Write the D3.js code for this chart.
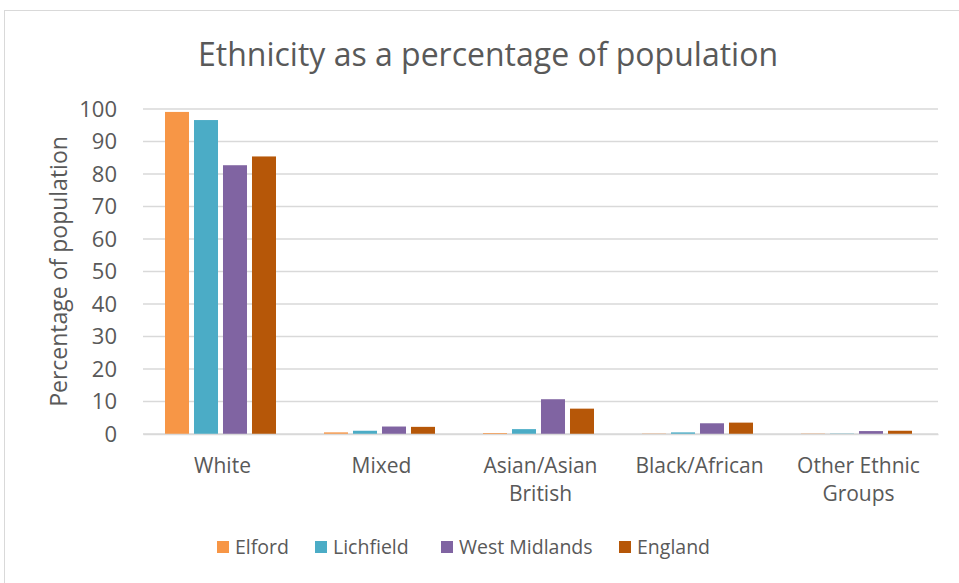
<!DOCTYPE html>
<html>
<head>
<meta charset="utf-8">
<script src="https://cdn.jsdelivr.net/npm/d3@7"></script>
<style>
  body { margin: 0; background: #fff; }
  text { font-family: "Open Sans", sans-serif; fill: #595959; }
</style>
</head>
<body>
<svg id="canvas"></svg>
<script>
let categories = ["White", "Mixed", "Asian/Asian British", "Black/African", "Other Ethnic Groups"];
let seriesNames = ["Elford", "Lichfield", "West Midlands", "England"];
let elford = [99.1, 0.5, 0.3, 0.1, 0.1];
let lichfield = [96.6, 1.0, 1.5, 0.5, 0.1];
let westMidlands = [82.7, 2.3, 10.7, 3.3, 0.9];
let england = [85.4, 2.2, 7.8, 3.5, 1.0];
let yTicks = [0, 10, 20, 30, 40, 50, 60, 70, 80, 90, 100];
let colors = ["#F79646", "#4BACC6", "#8064A2", "#B65708"];

let seriesValues = [elford, lichfield, westMidlands, england];

let width = 959;
let height = 583;
let plotLeft = 143;
let plotRight = 938;
let plotTop = 109;
let plotBottom = 434;

let canvas = d3.select("#canvas").attr("width", width).attr("height", height);

// outer chart border, only left and top show inside the window
canvas.append("rect")
  .attr("x", 4.5).attr("y", 10.5)
  .attr("width", width + 10).attr("height", height + 10)
  .attr("fill", "#fff").attr("stroke", "#d9d9d9");

let x0 = d3.scaleBand().domain(categories).range([plotLeft, plotRight]);
let x1 = d3.scaleBand().domain(seriesNames).range([22, 133]).paddingInner(0.172);
let yScale = d3.scaleLinear().domain([0, 100]).range([plotBottom, plotTop]);
let color = d3.scaleOrdinal().domain(seriesNames).range(colors);

// gridlines
canvas.append("g")
  .selectAll("line")
  .data(yTicks)
  .enter()
  .append("line")
  .attr("x1", plotLeft).attr("x2", plotRight)
  .attr("y1", (d) => yScale(d)).attr("y2", (d) => yScale(d))
  .attr("stroke", "#d9d9d9").attr("stroke-width", 1.3);

let yAxis = d3.axisLeft(yScale).tickValues(yTicks).tickSize(0).tickPadding(26);
let yG = canvas.append("g").attr("transform", "translate(" + plotLeft + ",0)").call(yAxis);
yG.select(".domain").remove();
yG.selectAll("text").style("font-size", "22px").attr("fill", "#595959");

// bars
let groups = canvas.append("g")
  .selectAll("g")
  .data(categories)
  .enter()
  .append("g")
  .attr("transform", (d) => "translate(" + x0(d) + ",0)");

groups.selectAll("rect")
  .data((d, i) => seriesNames.map((s, j) => ({ series: s, value: seriesValues[j][i] })))
  .enter()
  .append("rect")
  .attr("x", (d) => x1(d.series))
  .attr("width", x1.bandwidth())
  .attr("y", (d) => yScale(d.value))
  .attr("height", (d) => yScale(0) - yScale(d.value))
  .attr("fill", (d) => color(d.series));

// category axis
let xAxis = d3.axisBottom(x0).tickSize(0).tickPadding(0);
let xG = canvas.append("g").attr("transform", "translate(0," + plotBottom + ")").call(xAxis);
xG.select(".domain").attr("stroke", "#d9d9d9").attr("stroke-width", 1.3);
xG.selectAll("text").style("font-size", "21px").attr("fill", "#595959").attr("dy", 0).attr("y", 39)
  .each(function () { wrap(d3.select(this), 150); });

function wrap(textSel, maxW) {
  let words = textSel.text().split(" ");
  textSel.text(null);
  let line = [];
  let lineNo = 0;
  let tspan = textSel.append("tspan").attr("x", 0).attr("y", 39);
  words.forEach((w) => {
    line.push(w);
    tspan.text(line.join(" "));
    if (tspan.node().getComputedTextLength() > maxW && line.length > 1) {
      line.pop();
      tspan.text(line.join(" "));
      line = [w];
      lineNo++;
      tspan = textSel.append("tspan").attr("x", 0).attr("y", 39 + lineNo * 28).text(w);
    }
  });
}

// title
canvas.append("text")
  .attr("x", 488).attr("y", 66)
  .attr("text-anchor", "middle")
  .style("font-size", "32px")
  .text("Ethnicity as a percentage of population");

// y axis title
canvas.append("text")
  .attr("transform", "translate(67," + ((plotTop + plotBottom) / 2) + ") rotate(-90)")
  .attr("text-anchor", "middle")
  .style("font-size", "23px")
  .text("Percentage of population");

// legend
let legendX = [217, 315, 441, 619];
let legend = canvas.append("g")
  .selectAll("g")
  .data(seriesNames)
  .enter()
  .append("g")
  .attr("transform", (d, i) => "translate(" + legendX[i] + ",541)");
legend.append("rect").attr("width", 12).attr("height", 12).attr("fill", (d) => color(d));
legend.append("text").attr("x", 18).attr("y", 13).style("font-size", "19.5px").text((d) => d);
</script>
</body>
</html>
